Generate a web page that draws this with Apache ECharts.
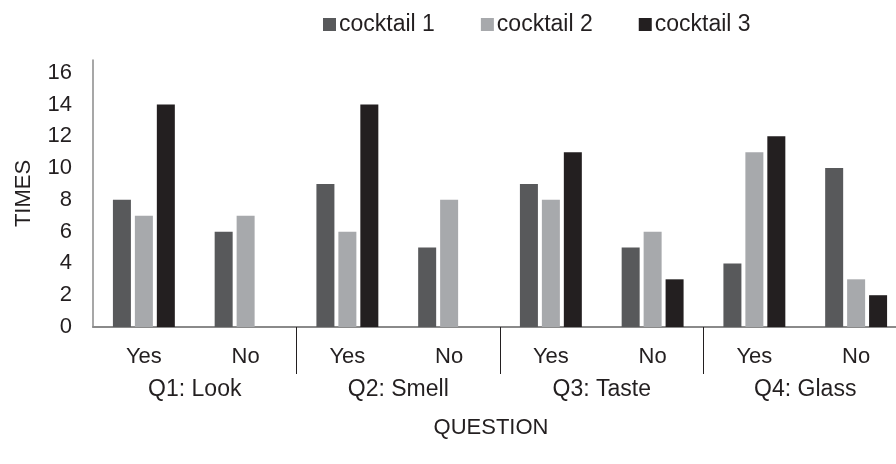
<!DOCTYPE html>
<html>
<head>
<meta charset="utf-8">
<title>Cocktail survey</title>
<script src="https://cdn.jsdelivr.net/npm/echarts@6/dist/echarts.min.js"></script>
<style>
  html, body { margin: 0; padding: 0; background: #ffffff; }
  #chart { width: 896px; height: 464px; }
</style>
</head>
<body>
<div id="chart"></div>
<script>
// Answers per question (two per question) and the question groups
const answers = ['Yes', 'No', 'Yes', 'No', 'Yes', 'No', 'Yes', 'No'];
const questions = ['Q1: Look', 'Q2: Smell', 'Q3: Taste', 'Q4: Glass'];

// How many times each cocktail got the answer
const cocktail1 = [8, 6, 9, 5, 9, 5, 4, 10];
const cocktail2 = [7, 7, 6, 8, 8, 6, 11, 3];
const cocktail3 = [14, 0, 14, 0, 11, 3, 12, 2];

const seriesNames = ['cocktail 1', 'cocktail 2', 'cocktail 3'];
const seriesColors = ['#58595b', '#a7a9ac', '#231f20'];

const FONT = "'Liberation Sans', Arial, sans-serif";
const TEXT = '#231f20';

const chart = echarts.init(document.getElementById('chart'), null, { renderer: 'canvas' });

const values = [cocktail1, cocktail2, cocktail3];

chart.setOption({
  animation: false,
  backgroundColor: '#ffffff',
  textStyle: { fontFamily: FONT, color: TEXT },
  legend: {
    left: 318,
    top: 8,
    itemWidth: 13,
    itemHeight: 13,
    itemGap: 46,
    icon: 'rect',
    textStyle: { fontFamily: FONT, fontSize: 23, color: TEXT, padding: [0, 0, 0, -2] },
    data: seriesNames
  },
  // the plot runs slightly past the right edge of the canvas
  grid: {
    left: 93, width: 814, top: 60, bottom: 137,
    containLabel: false, outerBoundsMode: 'none'
  },
  yAxis: {
    type: 'value',
    min: 0,
    max: 16.8,
    interval: 2,
    name: 'TIMES',
    nameLocation: 'middle',
    nameGap: 58,
    nameTextStyle: { fontFamily: FONT, fontSize: 22, color: TEXT },
    axisLine: { show: true, lineStyle: { color: '#8a8a8a', width: 1.5 } },
    axisTick: { show: false },
    splitLine: { show: false },
    axisLabel: {
      fontFamily: FONT, fontSize: 22, color: TEXT, margin: 21,
      showMaxLabel: false
    }
  },
  xAxis: [
    {
      type: 'category',
      data: answers,
      position: 'bottom',
      axisLine: { show: true, lineStyle: { color: '#8a8a8a', width: 2 } },
      // separators between the question groups
      axisTick: {
        show: true,
        length: 47,
        interval: function (index) { return index === 2 || index === 4 || index === 6; },
        lineStyle: { color: '#231f20', width: 1 }
      },
      axisLabel: { fontFamily: FONT, fontSize: 22, color: TEXT, margin: 19, interval: 0 }
    },
    {
      type: 'category',
      data: questions,
      position: 'bottom',
      axisLine: { show: false },
      axisTick: { show: false },
      axisLabel: { fontFamily: FONT, fontSize: 23, color: TEXT, margin: 51, interval: 0 },
      name: 'QUESTION',
      nameLocation: 'middle',
      nameGap: 90,
      nameTextStyle: { fontFamily: FONT, fontSize: 22, color: TEXT, padding: [0, 18, 0, 0] }
    }
  ],
  series: seriesNames.map(function (name, i) {
    return {
      name: name,
      type: 'bar',
      xAxisIndex: 0,
      data: values[i],
      barWidth: 18,
      barGap: '22%',
      itemStyle: { color: seriesColors[i] }
    };
  })
});
</script>
</body>
</html>
